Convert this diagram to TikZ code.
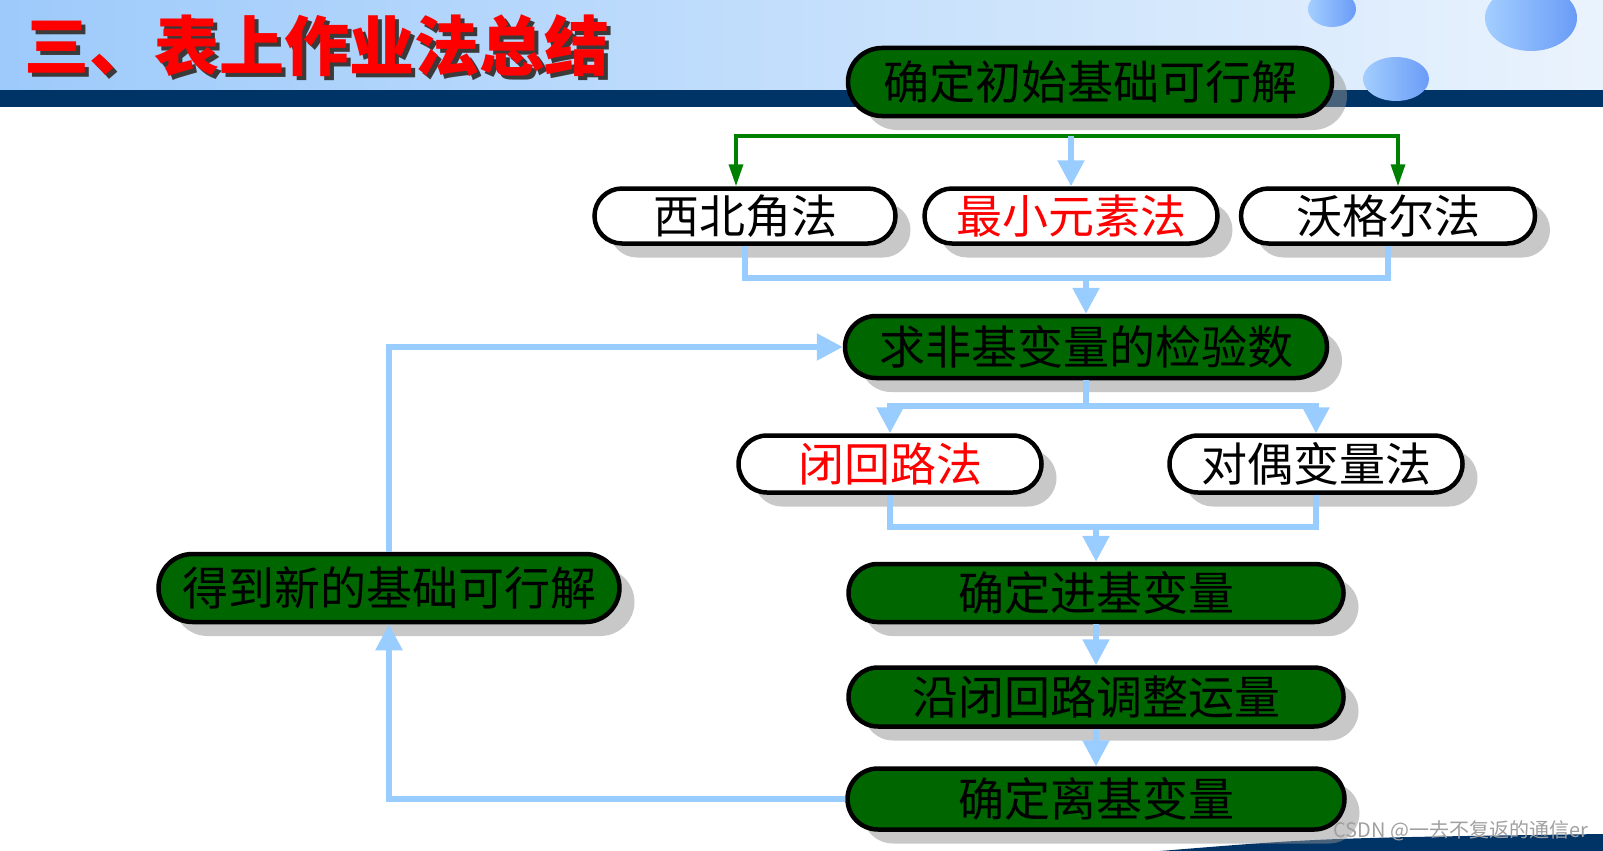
\documentclass[tikz,border=0pt]{standalone}
\usepackage{fontspec}
\usepackage{xcolor}
\usepackage{tikz}
\usetikzlibrary{shapes.misc,shadows,arrows.meta}
\newfontfamily\cjk{Noto Sans CJK SC}
\newcommand{\nodefont}{\cjk\fontsize{46}{50}\selectfont}
\newcommand{\titlefont}{\cjk\bfseries\fontsize{65}{70}\selectfont}
\newcommand{\shadowed}[1]{\makebox[0pt][l]{\hspace{4pt}\raisebox{-4pt}{\color{titleshade}#1}}#1}
\definecolor{hdrL}{HTML}{9DCAFB}
\definecolor{hdrR}{HTML}{EAF3FD}
\definecolor{navy}{HTML}{003366}
\definecolor{boxgreen}{HTML}{006600}
\definecolor{linegreen}{HTML}{008000}
\definecolor{arrowblue}{HTML}{99CCFF}
\definecolor{shadowgray}{HTML}{919191}
\definecolor{bubbleL}{HTML}{A3CEFF}
\definecolor{bubbleR}{HTML}{6A9CF7}
\definecolor{titleshade}{HTML}{3A3A3A}
\definecolor{wmgray}{HTML}{A0A0A0}
\tikzset{
    pill/.style={rounded rectangle, draw=black, line width=4.5pt, inner sep=0pt, font=\nodefont,
        drop shadow={shadow xshift=15pt, shadow yshift=-14pt, fill=shadowgray, opacity=0.5}},
    stepbox/.style={pill, fill=boxgreen},
    methodbox/.style={pill, fill=white},
    blueline/.style={draw=arrowblue, line width=5.5pt},
    bluearrow/.style={blueline, -{Triangle[length=26pt,width=26pt]}},
    greenarrow/.style={draw=linegreen, line width=3.5pt,
        {Triangle[length=22pt,width=14pt]}-{Triangle[length=22pt,width=14pt]}}
}
\begin{document}
\begin{tikzpicture}[x=1pt,y=-1pt]
    \useasboundingbox (0,0) rectangle (1603,851);
    % header and decoration
    \fill[left color=hdrL, right color=hdrR] (0,0) rectangle (1603,90);
    \fill[navy] (0,90) rectangle (1603,107);
    \fill[navy] (1160,851) .. controls (1320,838) .. (1603,834) -- (1603,851) -- cycle;
    \shade[left color=bubbleL, right color=bubbleR] (1332,9) ellipse [x radius=24pt, y radius=18pt];
    \shade[left color=bubbleL, right color=bubbleR] (1531,18) ellipse [x radius=46pt, y radius=33pt];
    \shade[left color=bubbleL, right color=bubbleR] (1396,79) ellipse [x radius=33pt, y radius=22pt];
    \node[text=red, font=\titlefont] (title) at (317,48) {\shadowed{三、表上作业法总结}};

    % boxes
    \node[stepbox, minimum width=484pt, minimum height=68pt] (init) at (1090,82) {确定初始基础可行解};
    \node[methodbox, minimum width=301pt, minimum height=55pt] (northwest) at (745,216) {西北角法};
    \node[methodbox, minimum width=293pt, minimum height=55pt, text=red] (mincost) at (1071,216) {最小元素法};
    \node[methodbox, minimum width=294pt, minimum height=55pt] (vogel) at (1388,216) {沃格尔法};
    \node[stepbox, minimum width=482pt, minimum height=62pt] (check) at (1086,347) {求非基变量的检验数};
    \node[methodbox, minimum width=303pt, minimum height=57pt, text=red] (loop) at (890,464) {闭回路法};
    \node[methodbox, minimum width=293pt, minimum height=57pt] (dual) at (1316,464) {对偶变量法};
    \node[stepbox, minimum width=495pt, minimum height=58pt] (enter) at (1096,593) {确定进基变量};
    \node[stepbox, minimum width=495pt, minimum height=59pt] (adjust) at (1096,697) {沿闭回路调整运量};
    \node[stepbox, minimum width=497pt, minimum height=61pt] (leave) at (1096,799) {确定离基变量};
    \node[stepbox, minimum width=461pt, minimum height=68pt] (newsol) at (389,588) {得到新的基础可行解};

    % connectors
    \coordinate (gL) at (736,136);
    \coordinate (gR) at (1398,136);
    \draw[greenarrow] (gL |- northwest.north) -- (gL) -- (gR) -- (gR |- vogel.north);
    \draw[bluearrow] (mincost.north |- gL) -- (mincost.north);
    \coordinate (j1) at (1086,278);
    \draw[blueline] (northwest.south) |- (j1) -| (vogel.south);
    \draw[bluearrow] (j1) -- (check.north);
    \coordinate (j2) at (1086,406);
    \draw[blueline] (check.south) -- (j2);
    \draw[bluearrow] (j2) -| (loop.north);
    \draw[bluearrow] (j2) -| (dual.north);
    \coordinate (j3) at (1096,527);
    \draw[blueline] (loop.south) |- (j3) -| (dual.south);
    \draw[bluearrow] (j3) -- (enter.north);
    \draw[bluearrow] (enter.south) -- (adjust.north);
    \draw[bluearrow] (adjust.south) -- (leave.north);
    \draw[bluearrow] (leave.west) -| (newsol.south); % back to new solution
    \draw[bluearrow] (newsol.north) |- (check.west);

    \node[text=wmgray, font=\cjk\fontsize{20}{20}\selectfont] (mark) at (1461,831) {CSDN @一去不复返的通信er};
\end{tikzpicture}
\end{document}
